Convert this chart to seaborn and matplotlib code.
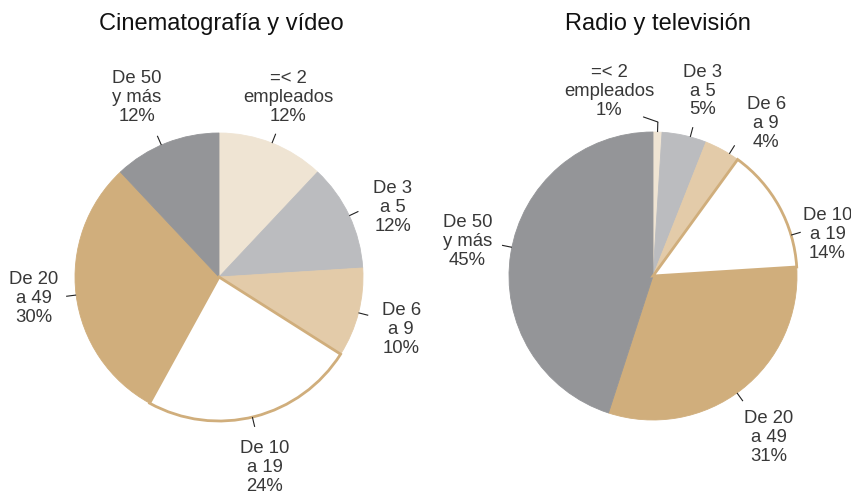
import numpy as np
import matplotlib.pyplot as plt
import seaborn as sns

sns.set_style('white')
plt.rcParams['font.family'] = ['Liberation Sans', 'DejaVu Sans']

# data
categories = ['=< 2\nempleados', 'De 3\na 5', 'De 6\na 9', 'De 10\na 19', 'De 20\na 49', 'De 50\ny más']
cine = [12, 12, 10, 24, 30, 12]
radio = [1, 5, 4, 14, 31, 45]
titles = ['Cinematografía y vídeo', 'Radio y televisión']

colors = ['#efe4d3', '#bbbcbf', '#e3cba9', '#ffffff', '#d0ae7c', '#949598']
tan = '#d0ae7c'
text_col = '#383838'

# label layout: tick nudge (deg), text nudge (deg), text distance (radii)
cine_tick = [0, 0, 0, -1, 0, 2]
cine_shift = [0.6, -3.4, -1.8, -0.8, -0.7, 3.0]
cine_dist = [1.335, 1.30, 1.317, 1.358, 1.293, 1.37]
radio_tick = [0, -2.4, -3.2, -12.3, -2.1, -2.5]
radio_shift = [15.2, -2.4, -7.7, -15.5, -2.1, -1.6]
radio_dist = [1.32, 1.33, 1.32, 1.245, 1.38, 1.31]

W, H = 851, 494
fig = plt.figure(figsize=(W / 100, H / 100), dpi=100)


def fit_ax(ax, cx, cy, r, x0, x1):
    # centre (cx, cy) px from top-left, radius r px
    ax.set_aspect('auto')
    ax.set_xlim((x0 - cx) / r, (x1 - cx) / r)
    ax.set_ylim(-(H - cy) / r, cy / r)
    ax.axis('off')


def draw_pie(ax, values, ticks, shifts, dists, elbow=None):
    wedges, _ = ax.pie(values, colors=colors, startangle=90, counterclock=False,
                       radius=1, wedgeprops=dict(linewidth=0.6))
    for i, w in enumerate(wedges):
        w.set_edgecolor(colors[i])
        if i == 3:
            w.set_edgecolor(tan)
            w.set_linewidth(2)
            w.set_zorder(5)
    for i, w in enumerate(wedges):
        mid = (w.theta1 + w.theta2) / 2
        ta = np.deg2rad(mid + ticks[i])
        x0, y0 = np.cos(ta), np.sin(ta)
        ax.plot([x0 * 1.0, x0 * 1.07], [y0 * 1.0, y0 * 1.07], color='#222222', lw=0.8,
                solid_capstyle='butt', zorder=6)
        if elbow is not None and i == elbow:
            ax.plot([x0 * 1.07, x0 * 1.07 - 0.1], [y0 * 1.07, y0 * 1.07 + 0.035],
                    color='#222222', lw=0.8, zorder=6)
        la = np.deg2rad(mid + shifts[i])
        ax.text(np.cos(la) * dists[i], np.sin(la) * dists[i],
                f'{categories[i]}\n{values[i]}%', ha='center', va='center',
                fontsize=13.3, color=text_col, linespacing=1.15)


ax1 = fig.add_axes([0, 0, 430 / W, 1])
draw_pie(ax1, cine, cine_tick, cine_shift, cine_dist)
fit_ax(ax1, 219, 277, 144, 0, 430)

ax2 = fig.add_axes([432 / W, 0, (851 - 432) / W, 1])
draw_pie(ax2, radio, radio_tick, radio_shift, radio_dist, elbow=0)
fit_ax(ax2, 653, 276, 144, 432, 851)

fig.text(221 / W, 1 - 24 / H, titles[0], ha='center', va='center', fontsize=17, color='#111111')
fig.text(658 / W, 1 - 24 / H, titles[1], ha='center', va='center', fontsize=17, color='#111111')

fig.savefig('out.png', dpi=100, facecolor='white')
